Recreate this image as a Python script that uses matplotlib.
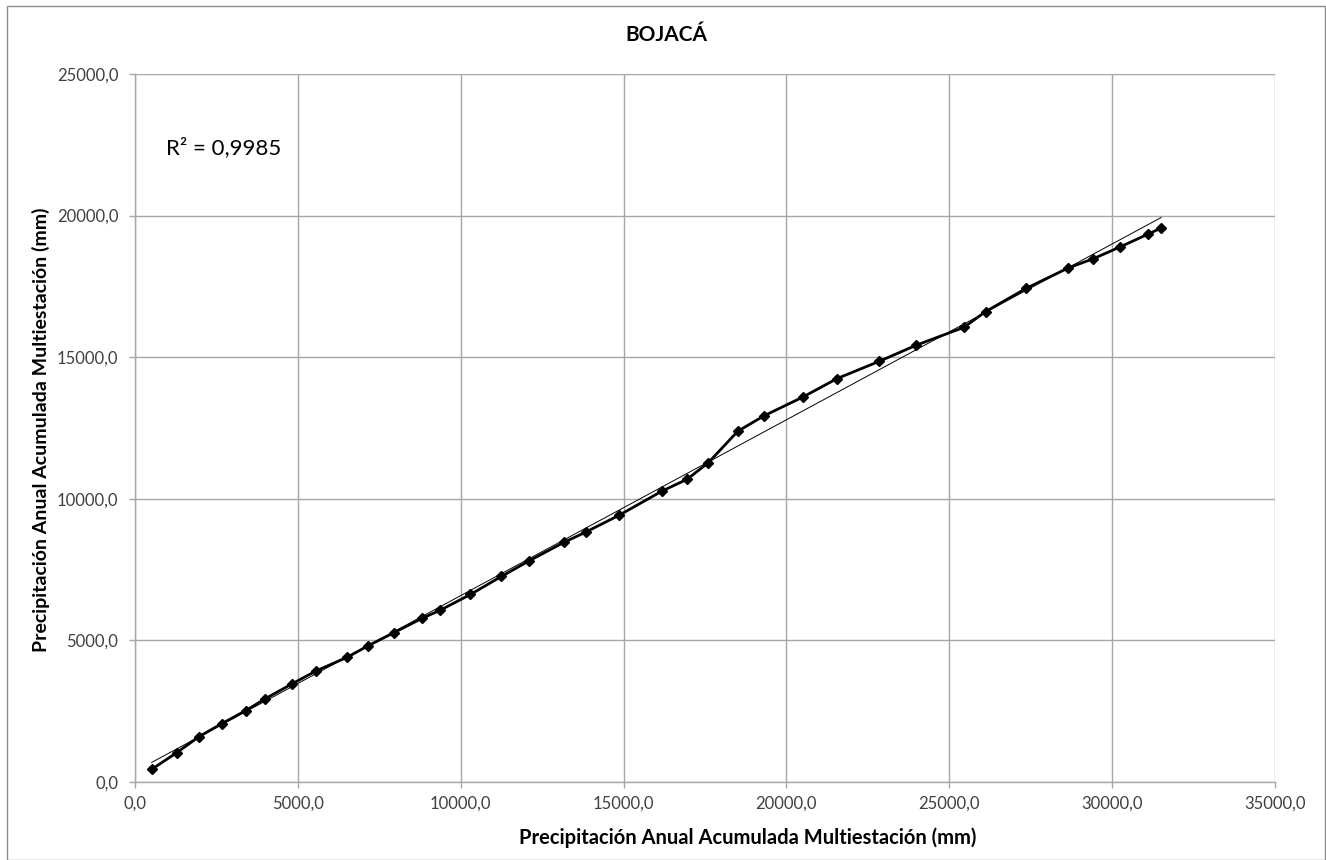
import numpy as np
import matplotlib
matplotlib.use("Agg")
import matplotlib.pyplot as plt
from matplotlib.ticker import FuncFormatter
from matplotlib.patches import Rectangle

plt.rcParams['font.family'] = ['Lato', 'DejaVu Sans']

title = "BOJACÁ"
x_label = "Precipitación Anual Acumulada Multiestación (mm)"
y_label = "Precipitación Anual Acumulada Multiestación (mm)"
r2_text = "R² = 0,9985"

x_multi = [512, 1279, 1963, 2659, 3395, 3998, 4826, 5552, 6524, 7158,
           7945, 8825, 9356, 10298, 11248, 12100, 13160, 13834, 14868,
           16175, 16954, 17607, 18506, 19304, 20512, 21555, 22853, 23978,
           25451, 26114, 27362, 28650, 29427, 30236, 31104, 31503]
y_station = [448, 1034, 1600, 2058, 2517, 2940, 3469, 3917, 4411, 4811,
             5270, 5787, 6058, 6622, 7258, 7810, 8458, 8822, 9422,
             10269, 10692, 11281, 12385, 12926, 13597, 14246, 14856, 15420,
             16055, 16609, 17431, 18150, 18480, 18890, 19348, 19560]

x_ticks = [0, 5000, 10000, 15000, 20000, 25000, 30000, 35000]
y_ticks = [0, 5000, 10000, 15000, 20000, 25000]

W, H = 1326, 860
fig = plt.figure(figsize=(W / 100, H / 100), dpi=100)
fig.patch.set_facecolor('white')

# outer chart frame
fig.add_artist(Rectangle((7 / W, 0), (1325 - 7) / W, 1 - 6 / H,
                         transform=fig.transFigure, fill=False,
                         edgecolor='#8c8c8c', linewidth=1.0))

ax = fig.add_axes([135 / W, 1 - 782 / H, (1275 - 135) / W, (782 - 74) / H])

xa = np.array(x_multi, dtype=float)
ya = np.array(y_station, dtype=float)
m, b = np.polyfit(xa, ya, 1)
xt = np.array([xa.min(), xa.max()])
ax.plot(xt, m * xt + b, color='black', linewidth=0.7, zorder=3)

ax.plot(xa, ya, color='black', linewidth=2.0, marker='D', markersize=5.5,
        markerfacecolor='black', markeredgecolor='black', zorder=4)

ax.set_xlim(0, 35000)
ax.set_ylim(0, 25000)
ax.set_xticks(x_ticks)
ax.set_yticks(y_ticks)
fmt = FuncFormatter(lambda v, p: f"{v:.1f}".replace('.', ','))
ax.xaxis.set_major_formatter(fmt)
ax.yaxis.set_major_formatter(fmt)
ax.grid(True, color='#a6a6a6', linewidth=1.0)
ax.set_axisbelow(True)
for s in ['top', 'right']:
    ax.spines[s].set_visible(False)
for s in ['bottom', 'left']:
    ax.spines[s].set_color('#a6a6a6')
    ax.spines[s].set_linewidth(1.0)
ax.tick_params(axis='both', direction='out', length=4, color='#a6a6a6',
               labelsize=12, labelcolor='#404040', width=1.0)
ax.tick_params(axis='x', pad=6)
ax.tick_params(axis='y', pad=8)

ax.text(950, 22400, r2_text, fontsize=16, color='black', va='center', ha='left')

fig.text(666 / W, 1 - 35 / H, title, fontsize=15, fontweight='bold',
         ha='center', va='center')
fig.text(748 / W, 1 - 838 / H, x_label, fontsize=14.5, fontweight='bold',
         ha='center', va='center')
fig.text(41 / W, 1 - 430 / H, y_label, fontsize=14, fontweight='bold',
         ha='center', va='center', rotation=90)

fig.savefig("out.png", dpi=100, facecolor='white')
